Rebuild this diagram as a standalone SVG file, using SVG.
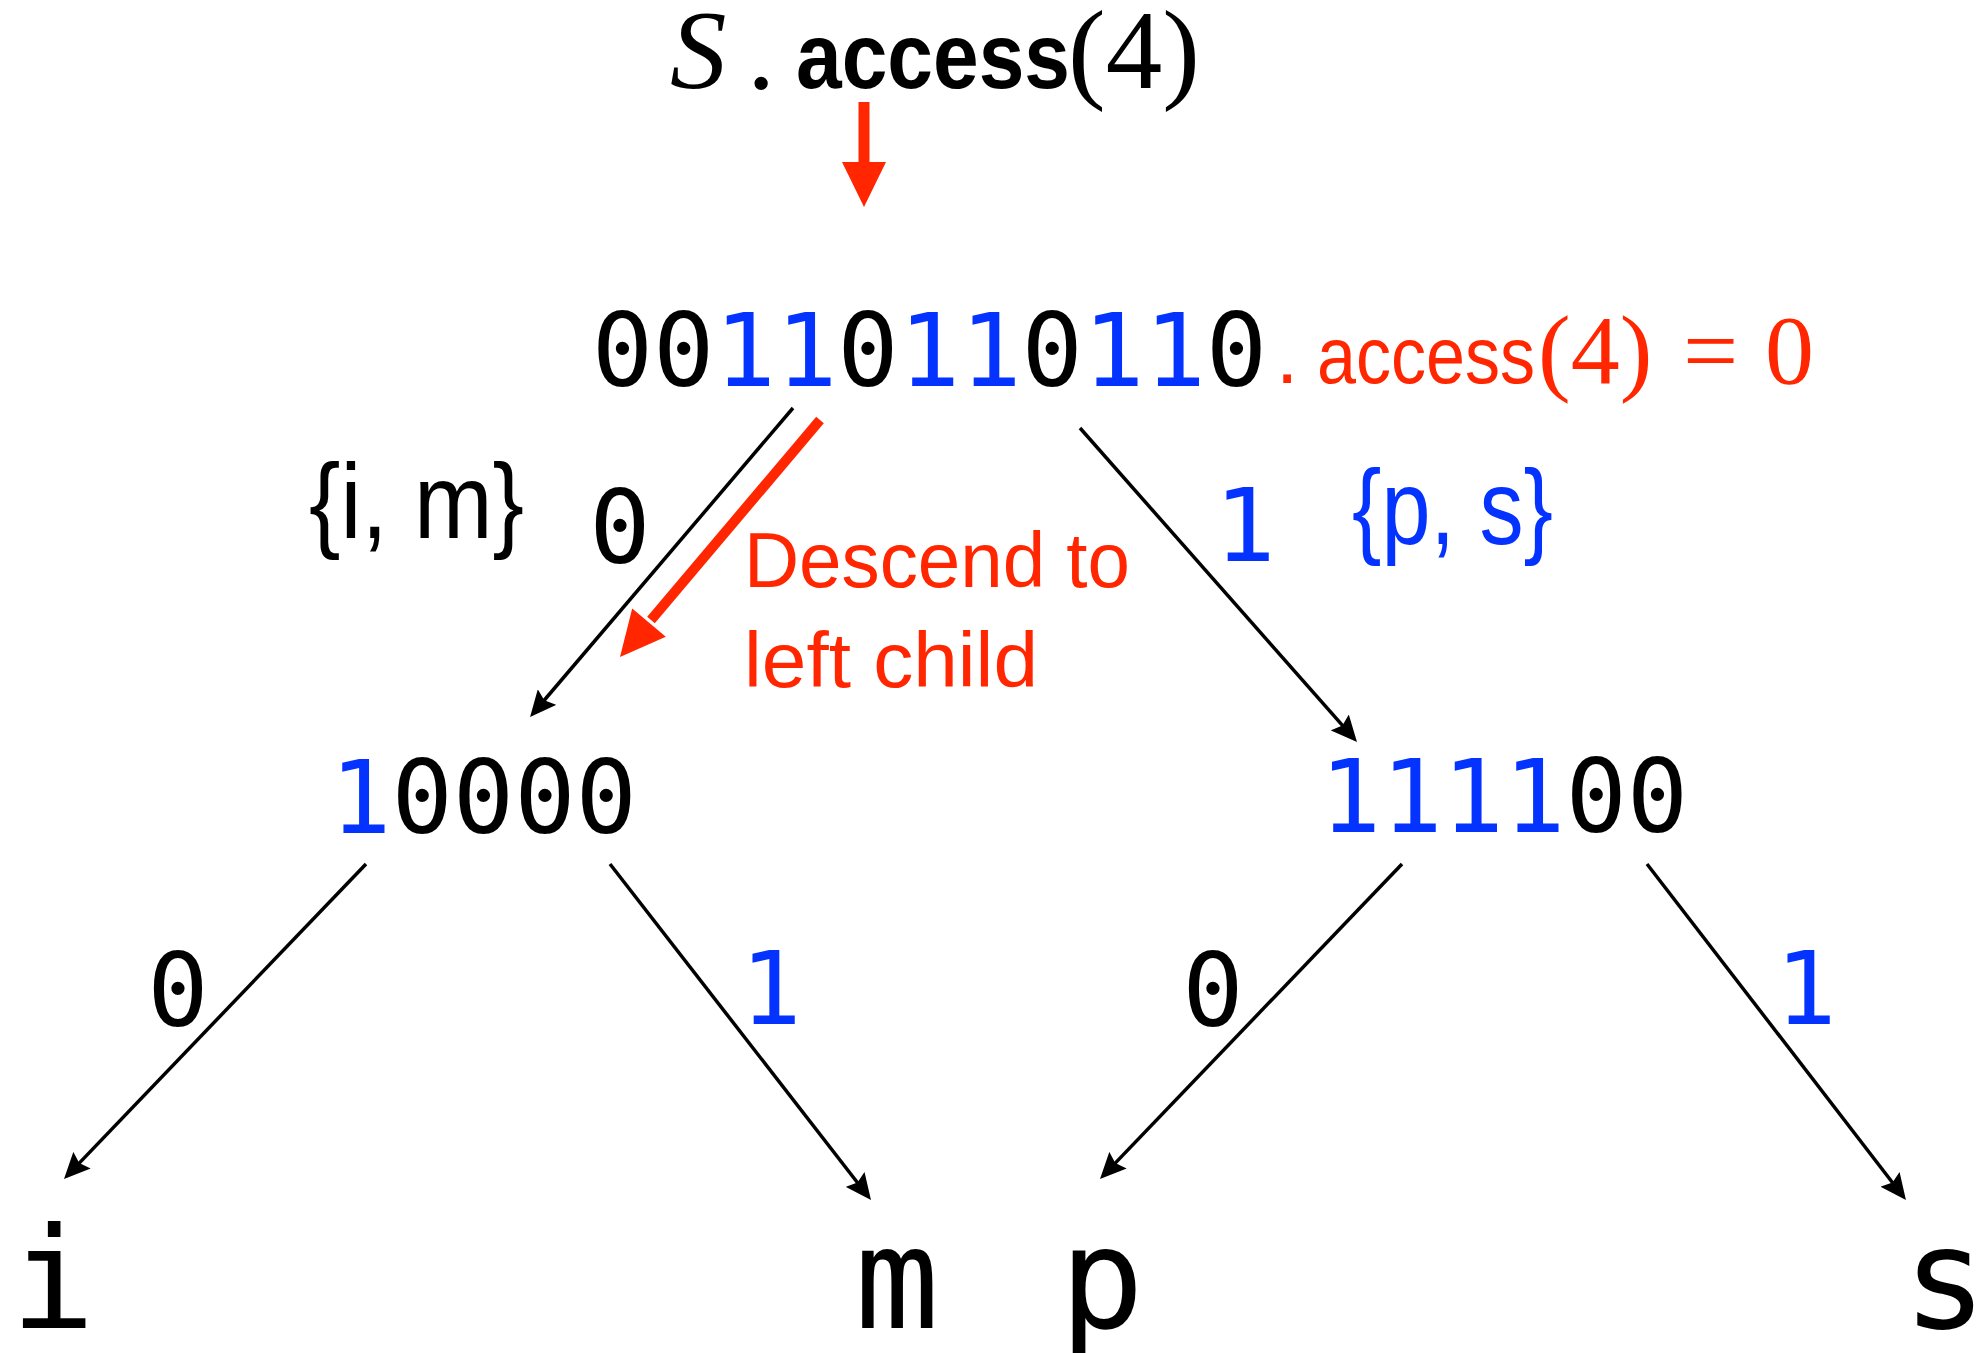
<svg xmlns="http://www.w3.org/2000/svg" width="1977" height="1353" viewBox="0 0 1977 1353">
  <defs>
    <style>
      .mono { font-family: "DejaVu Sans Mono", "Liberation Mono", monospace; }
      .sans { font-family: "Liberation Sans", Arial, sans-serif; }
      .serif { font-family: "Liberation Serif", "Times New Roman", serif; }
      .blue { fill: #0433FF; }
      .red { fill: #FF2600; }
      .blk { fill: #000000; }
      .bits { font-size: 102px; }
      .leaf { font-size: 140px; }
      .edge { stroke: #000000; stroke-width: 3.5; fill: none; marker-end: url(#head); }
    </style>
    <marker id="head" viewBox="0 0 26 24" markerWidth="26" markerHeight="24" refX="13" refY="12" orient="auto" markerUnits="userSpaceOnUse">
      <path d="M0,0 L26,12 L0,24 L4,12 z" fill="#000000"/>
    </marker>
  </defs>
  <rect width="1977" height="1353" fill="#ffffff"/>

  <!-- query heading -->
  <g id="query">
    <text x="670" y="88" class="serif blk" font-size="113" font-style="italic">S</text>
    <text x="747" y="88" class="serif blk" font-size="113">.</text>
    <text x="796" y="88" class="sans blk" font-size="92" font-weight="bold" textLength="274" lengthAdjust="spacingAndGlyphs">access</text>
    <text x="1068" y="88" class="serif blk" font-size="113">(4)</text>
  </g>

  <!-- root bitvector -->
  <g id="root">
    <text x="929.5" y="386" class="mono bits blk" text-anchor="middle"><tspan class="blk">00</tspan><tspan class="blue">11</tspan><tspan class="blk">0</tspan><tspan class="blue">11</tspan><tspan class="blk">0</tspan><tspan class="blue">11</tspan><tspan class="blk">0</tspan></text>
    <text x="1276" y="383" class="sans red" font-size="80">.</text>
    <text x="1317" y="383" class="sans red" font-size="80" textLength="218" lengthAdjust="spacingAndGlyphs">access</text>
    <text x="1538" y="383" class="serif red" font-size="98">(4)</text>
    <text x="1683" y="383" class="serif red" font-size="98">=</text>
    <text x="1765" y="383" class="serif red" font-size="98">0</text>
  </g>

  <!-- symbol sets of the two subtrees -->
  <g id="set-left">
    <text x="309" y="538" class="sans blk" font-size="105" textLength="215" lengthAdjust="spacingAndGlyphs">{i, m}</text>
  </g>
  <g id="set-right">
    <text x="1352" y="544" class="sans blue" font-size="105" textLength="201" lengthAdjust="spacingAndGlyphs">{p, s}</text>
  </g>

  <!-- step note -->
  <g id="note">
    <text x="744" y="587" class="sans red" font-size="78" textLength="386" lengthAdjust="spacingAndGlyphs">Descend to</text>
    <text x="744" y="687" class="sans red" font-size="78" textLength="294" lengthAdjust="spacingAndGlyphs">left child</text>
  </g>

  <!-- internal nodes -->
  <g id="node-left">
    <text x="483.5" y="833" class="mono bits" text-anchor="middle"><tspan class="blue">1</tspan><tspan class="blk">0000</tspan></text>
  </g>
  <g id="node-right">
    <text x="1504" y="832" class="mono bits" text-anchor="middle"><tspan class="blue">1111</tspan><tspan class="blk">00</tspan></text>
  </g>

  <!-- leaves -->
  <g id="leaf-i"><text x="53" y="1328" class="mono leaf blk" text-anchor="middle">i</text></g>
  <g id="leaf-m"><text x="897" y="1328" class="mono leaf blk" text-anchor="middle">m</text></g>
  <g id="leaf-p"><text x="1102" y="1328" class="mono leaf blk" text-anchor="middle">p</text></g>
  <g id="leaf-s"><text x="1945" y="1328" class="mono leaf blk" text-anchor="middle">s</text></g>

  <!-- edges and their bit labels -->
  <g id="connectors">
    <line class="edge" x1="793" y1="408" x2="538.5" y2="707"/>
    <line class="edge" x1="1080" y1="428" x2="1348.4" y2="732.2"/>
    <line class="edge" x1="366" y1="864" x2="73" y2="1169.6"/>
    <line class="edge" x1="610" y1="864" x2="863" y2="1189.7"/>
    <line class="edge" x1="1402" y1="864" x2="1109" y2="1169.6"/>
    <line class="edge" x1="1647" y1="864" x2="1898" y2="1189.7"/>

    <!-- red query arrows -->
    <line x1="864" y1="102" x2="864" y2="164" stroke="#FF2600" stroke-width="11"/>
    <polygon points="842,162 886,162 864,207" fill="#FF2600"/>
    <line x1="820" y1="420" x2="651" y2="620" stroke="#FF2600" stroke-width="10"/>
    <polygon points="665.8,636.8 632.2,608.4 620,657" fill="#FF2600"/>

    <text x="620" y="563" class="mono bits blk" text-anchor="middle">0</text>
    <text x="1245" y="561" class="mono bits blue" text-anchor="middle">1</text>
    <text x="178" y="1026" class="mono bits blk" text-anchor="middle">0</text>
    <text x="771" y="1024" class="mono bits blue" text-anchor="middle">1</text>
    <text x="1213" y="1026" class="mono bits blk" text-anchor="middle">0</text>
    <text x="1806" y="1024" class="mono bits blue" text-anchor="middle">1</text>
  </g>
</svg>
